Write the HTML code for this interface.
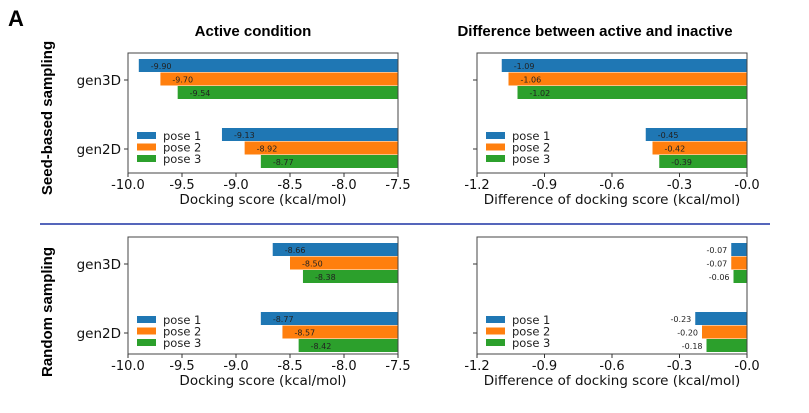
<!DOCTYPE html>
<html><head><meta charset="utf-8"><style>
body{margin:0;background:#fff;}
svg{display:block;font-family:"DejaVu Sans","Liberation Sans",sans-serif;}
</style></head><body>
<svg id="fig" width="809" height="413" viewBox="0 0 809 413">
<text x="8" y="26" font-size="22" font-weight="bold" font-family="Liberation Sans, sans-serif">A</text>
<text x="253" y="36" font-size="15" font-weight="bold" text-anchor="middle" font-family="Liberation Sans, sans-serif">Active condition</text>
<text x="595" y="36" font-size="15" font-weight="bold" text-anchor="middle" font-family="Liberation Sans, sans-serif">Difference between active and inactive</text>
<text transform="translate(52,118) rotate(-90)" font-size="15" font-weight="bold" text-anchor="middle" font-family="Liberation Sans, sans-serif">Seed-based sampling</text>
<text transform="translate(52,312) rotate(-90)" font-size="15" font-weight="bold" text-anchor="middle" font-family="Liberation Sans, sans-serif">Random sampling</text>
<line x1="40" y1="224" x2="770" y2="224" stroke="#5566bb" stroke-width="2"/>
</svg>
<script>
const categories=["gen3D","gen2D"];
const poses=["pose 1","pose 2","pose 3"];
const colors=["#1f77b4","#ff7f0e","#2ca02c"];
const seedActive3D=[-9.90,-9.70,-9.54];
const seedActive2D=[-9.13,-8.92,-8.77];
const seedDiff3D=[-1.09,-1.06,-1.02];
const seedDiff2D=[-0.45,-0.42,-0.39];
const randActive3D=[-8.66,-8.50,-8.38];
const randActive2D=[-8.77,-8.57,-8.42];
const randDiff3D=[-0.07,-0.07,-0.06];
const randDiff2D=[-0.23,-0.20,-0.18];
const activeTicks=["-10.0","-9.5","-9.0","-8.5","-8.0","-7.5"];
const diffTicks=["-1.2","-0.9","-0.6","-0.3","-0.0"];
const NS="http://www.w3.org/2000/svg";
const svg=document.getElementById('fig');
function mk(tag,attrs,parent){const e=document.createElementNS(NS,tag);for(const k in attrs)e.setAttribute(k,attrs[k]);(parent||svg).appendChild(e);return e;}
function panel(name,x0,x1,y0,y1,xmin,xmax,ticks,d3,d2,labelOutside,showY,xlabel){
  const g=mk('g',{});
  
  
  const sx=v=>x0+(v-xmin)/(xmax-xmin)*(x1-x0);
  const catY=[y0+26,y0+95];
  const bh=13;
  [d3,d2].forEach((arr,ci)=>{
    arr.forEach((v,pi)=>{
      const yt=catY[ci]-20+pi*13.5;
      const r=mk('rect',{x:sx(v),y:yt,width:Math.max(0,Math.min(x1,sx(0))-sx(v)),height:bh,fill:colors[pi]},g);
      
      
      const lab=v.toFixed(2);
      const t=mk('text',labelOutside?{x:sx(v)-4,y:yt+10,'font-size':8,'text-anchor':'end',fill:'#222'}:{x:sx(v)+12,y:yt+10,'font-size':8,fill:'#222'},g);
      t.textContent=lab;
      
      
    });
    mk('line',{x1:x0-4,x2:x0,y1:catY[ci]+1,y2:catY[ci]+1,stroke:'#333'},g);
    if(showY){
      const yl=mk('text',{x:x0-7,y:catY[ci]+6,'font-size':13.5,'text-anchor':'end',fill:'#111'},g);
      yl.textContent=categories[ci];
      
      
    }
  });
  mk('rect',{x:x0,y:y0,width:x1-x0,height:y1-y0,fill:'none',stroke:'#444','stroke-width':1},g);
  ticks.forEach((tl,i)=>{
    const x=x0+i/(ticks.length-1)*(x1-x0);
    mk('line',{x1:x,x2:x,y1:y1,y2:y1+4,stroke:'#333'},g);
    const t=mk('text',{x:x,y:y1+16,'font-size':13,'text-anchor':'middle',fill:'#111'},g);
    t.textContent=tl;
    
    
  });
  const xl=mk('text',{x:(x0+x1)/2,y:y1+31,'font-size':13.5,'text-anchor':'middle',fill:'#111'},g);
  xl.textContent=xlabel;
  
  
  const lg=mk('g',{},g);
  
  
  poses.forEach((p,i)=>{
    const ly=y0+83+i*11.5;
    mk('rect',{x:x0+9,y:ly-4,width:19,height:7,fill:colors[i]},lg);
    const t=mk('text',{x:x0+35,y:ly+4,'font-size':11.5,fill:'#222'},lg);
    t.textContent=p;
    
    
  });
}
panel('chart-seed-active',128,398,53,173,-10,-7.5,activeTicks,seedActive3D,seedActive2D,false,true,'Docking score (kcal/mol)');
panel('chart-seed-diff',477,747,53,173,-1.2,0,diffTicks,seedDiff3D,seedDiff2D,false,false,'Difference of docking score (kcal/mol)');
panel('chart-random-active',128,398,237,354,-10,-7.5,activeTicks,randActive3D,randActive2D,false,true,'Docking score (kcal/mol)');
panel('chart-random-diff',477,747,237,354,-1.2,0,diffTicks,randDiff3D,randDiff2D,true,false,'Difference of docking score (kcal/mol)');
</script>
</body></html>
